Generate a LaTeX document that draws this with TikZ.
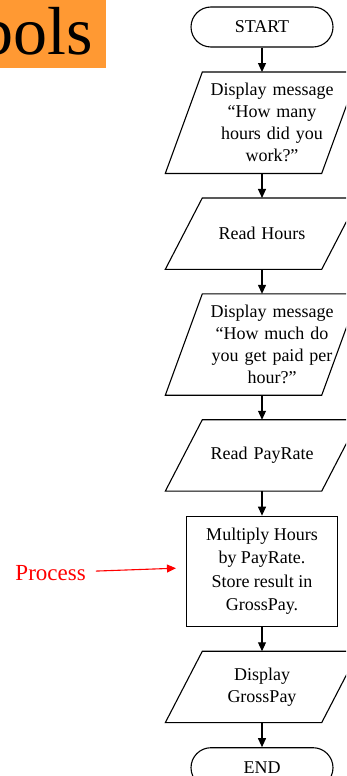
\documentclass[tikz,border=0pt]{standalone}
\usepackage{fontspec}
\setmainfont{Liberation Serif}
\usetikzlibrary{arrows.meta,positioning}
\definecolor{TitleOrange}{RGB}{255,153,51}
\definecolor{NoteRed}{RGB}{255,0,0}

\begin{document}
\begin{tikzpicture}[x=1pt,y=1pt,node distance=24.5pt,
  term/.style={rectangle,draw,line width=1.1pt,rounded corners=20pt,minimum width=142pt,minimum height=40pt,font=\fontsize{18}{22}\selectfont},
  io/.style={rectangle,inner sep=2pt,text width=152pt,align=center,minimum height=71pt,font=\fontsize{18}{22}\selectfont},
  iotall/.style={io,minimum height=101pt},
  proc/.style={rectangle,draw,line width=1.1pt,minimum width=151pt,minimum height=110pt,align=center,font=\fontsize{18}{23.5}\selectfont},
  flow/.style={-{Triangle[length=9pt,width=8pt]},line width=1.1pt},
  note/.style={-{Triangle[length=9pt,width=8pt]},line width=1.1pt,draw=NoteRed}
]
  \useasboundingbox (0,0) rectangle (346,-776);
  \clip (0,0) rectangle (346,-776);
  \fill[TitleOrange] (-10,10) rectangle (106,-68);
  \node[anchor=base east,inner sep=0pt,font=\fontsize{68}{80}\selectfont] (title) at (93.5,-55) {Symbols};

  \node[term] (start) at (262,-27) {START};
  \node[iotall,below=of start,xshift=10pt] (askhrs) {Display message\\“How many\\hours did you\\work?”};
  \node[io,below=of askhrs,xshift=-10pt] (readhrs) {Read Hours};
  \node[iotall,below=of readhrs,xshift=10pt] (askrate) {Display message\\“How much do\\you get paid per\\hour?”};
  \node[io,below=of askrate,xshift=-10pt] (readrate) {Read PayRate};
  \node[proc,below=of readrate] (mult) {Multiply Hours\\by PayRate.\\Store result in\\GrossPay.};
  \node[io,below=of mult] (showpay) {Display\\GrossPay};
  \node[term,below=of showpay] (stop) {END};

  \foreach \n/\dx in {askhrs/-10pt,readhrs/0pt,askrate/-10pt,readrate/0pt,showpay/0pt}
    \draw[line width=1.1pt] ([xshift=\dx+18.5pt]\n.north west) -- ([xshift=\dx+18.5pt]\n.north east) -- ([xshift=\dx-18.5pt]\n.south east) -- ([xshift=\dx-18.5pt]\n.south west) -- cycle;

  \draw[flow] (start) -- (start |- askhrs.north);
  \draw[flow] (start |- askhrs.south) -- (readhrs);
  \draw[flow] (readhrs) -- (readhrs |- askrate.north);
  \draw[flow] (readhrs |- askrate.south) -- (readrate);
  \draw[flow] (readrate) -- (mult);
  \draw[flow] (mult) -- (showpay);
  \draw[flow] (showpay) -- (stop);

  \node[font=\fontsize{23}{28}\selectfont,text=NoteRed,inner sep=0pt,left=100pt of mult,yshift=-1.5pt] (proclbl) {Process};
  \coordinate (procaim) at ([xshift=-10pt,yshift=3pt]mult.west);
  \draw[note,shorten <=10pt] (proclbl) -- (procaim);
\end{tikzpicture}
\end{document}
